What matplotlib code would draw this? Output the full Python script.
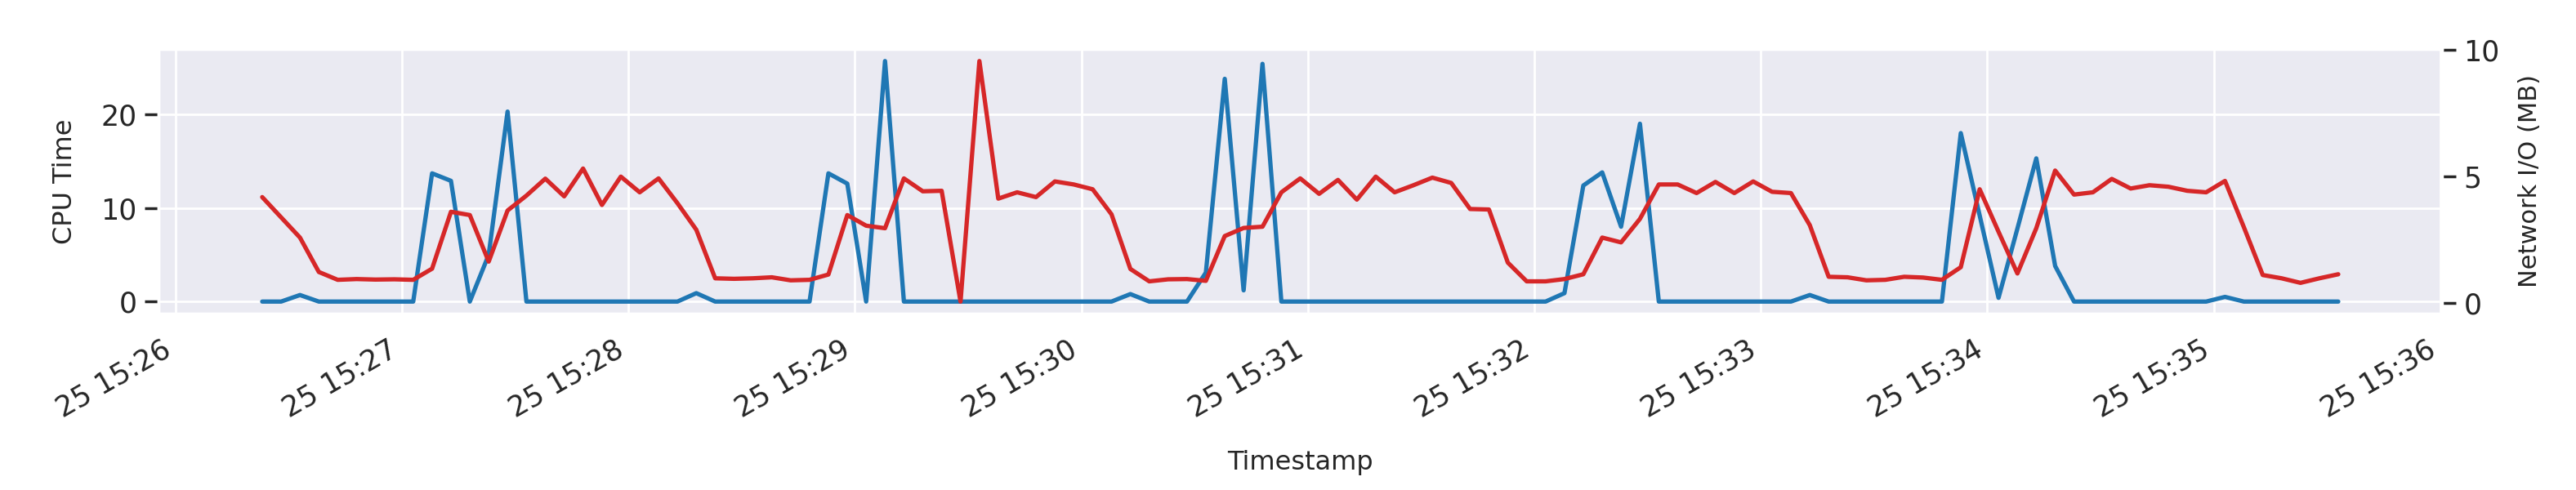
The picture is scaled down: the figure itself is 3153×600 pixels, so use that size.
import pandas as pd
import matplotlib
matplotlib.use('Agg')
import matplotlib.pyplot as plt
from matplotlib.ticker import MultipleLocator
import seaborn as sns

# samples every 5 seconds, starting 15:26:23
start_time = '2024-03-25 15:26:23'
sample_step = '5s'

cpu_time = [
    0, 0, 0.7, 0, 0, 0, 0, 0, 0, 13.7,
    12.9, 0, 5.0, 20.3, 0, 0, 0, 0, 0, 0,
    0, 0, 0, 0.9, 0, 0, 0, 0, 0, 0,
    13.7, 12.6, 0, 25.7, 0, 0, 0, 0, 0, 0,
    0, 0, 0, 0, 0, 0, 0.8, 0, 0, 0,
    3.1, 23.8, 1.2, 25.4, 0, 0, 0, 0, 0, 0,
    0, 0, 0, 0, 0, 0, 0, 0, 0, 0.9,
    12.4, 13.8, 8.0, 19.0, 0, 0, 0, 0, 0, 0,
    0, 0, 0.7, 0, 0, 0, 0, 0, 0, 0,
    18.0, 9.2, 0.4, 7.8, 15.3, 3.8, 0, 0, 0, 0,
    0, 0, 0, 0, 0.5, 0, 0, 0, 0, 0,
    0,
]

network_io = [
    4.17, 3.37, 2.57, 1.21, 0.90, 0.93, 0.91, 0.92, 0.90, 1.34,
    3.59, 3.46, 1.62, 3.64, 4.23, 4.90, 4.20, 5.30, 3.86, 4.98,
    4.36, 4.91, 3.93, 2.88, 0.96, 0.94, 0.96, 1.00, 0.88, 0.90,
    1.11, 3.46, 3.04, 2.94, 4.91, 4.40, 4.42, 0.04, 9.55, 4.11,
    4.36, 4.17, 4.79, 4.67, 4.48, 3.49, 1.33, 0.84, 0.92, 0.93,
    0.86, 2.63, 2.95, 3.00, 4.36, 4.91, 4.30, 4.85, 4.07, 4.98,
    4.36, 4.64, 4.94, 4.73, 3.70, 3.68, 1.58, 0.84, 0.84, 0.93,
    1.12, 2.57, 2.38, 3.31, 4.67, 4.67, 4.33, 4.77, 4.33, 4.79,
    4.38, 4.33, 3.06, 1.02, 1.00, 0.88, 0.90, 1.02, 0.99, 0.90,
    1.40, 4.48, 2.80, 1.15, 2.94, 5.22, 4.27, 4.36, 4.89, 4.51,
    4.64, 4.58, 4.42, 4.36, 4.81, 2.98, 1.09, 0.96, 0.78, 0.96,
    1.12,
]

timestamps = pd.date_range(start_time, periods=len(cpu_time), freq=sample_step)

sns.set_theme(style='darkgrid')
plt.rcParams['xtick.labelsize'] = 12.5
plt.rcParams['ytick.labelsize'] = 12.5

fig, ax1 = plt.subplots(figsize=(15.765, 3.0), dpi=200)

ax1.plot(timestamps, cpu_time, color='tab:blue', linewidth=1.9)
ax1.set_xlabel('Timestamp', fontsize=11.5, labelpad=12)
ax1.set_ylabel('CPU Time', fontsize=11.5, labelpad=10)
ax1.yaxis.set_major_locator(MultipleLocator(10))

ax2 = ax1.twinx()
ax2.plot(timestamps, network_io, color='tab:red', linewidth=1.9)
ax2.set_ylabel('Network I/O (MB)', fontsize=11, labelpad=8)
ax2.yaxis.set_major_locator(MultipleLocator(5))
ax2.grid(False)

fig.autofmt_xdate()
fig.subplots_adjust(left=0.0615, right=0.948, bottom=0.36, top=0.90)
fig.savefig('out.png', dpi=200)
